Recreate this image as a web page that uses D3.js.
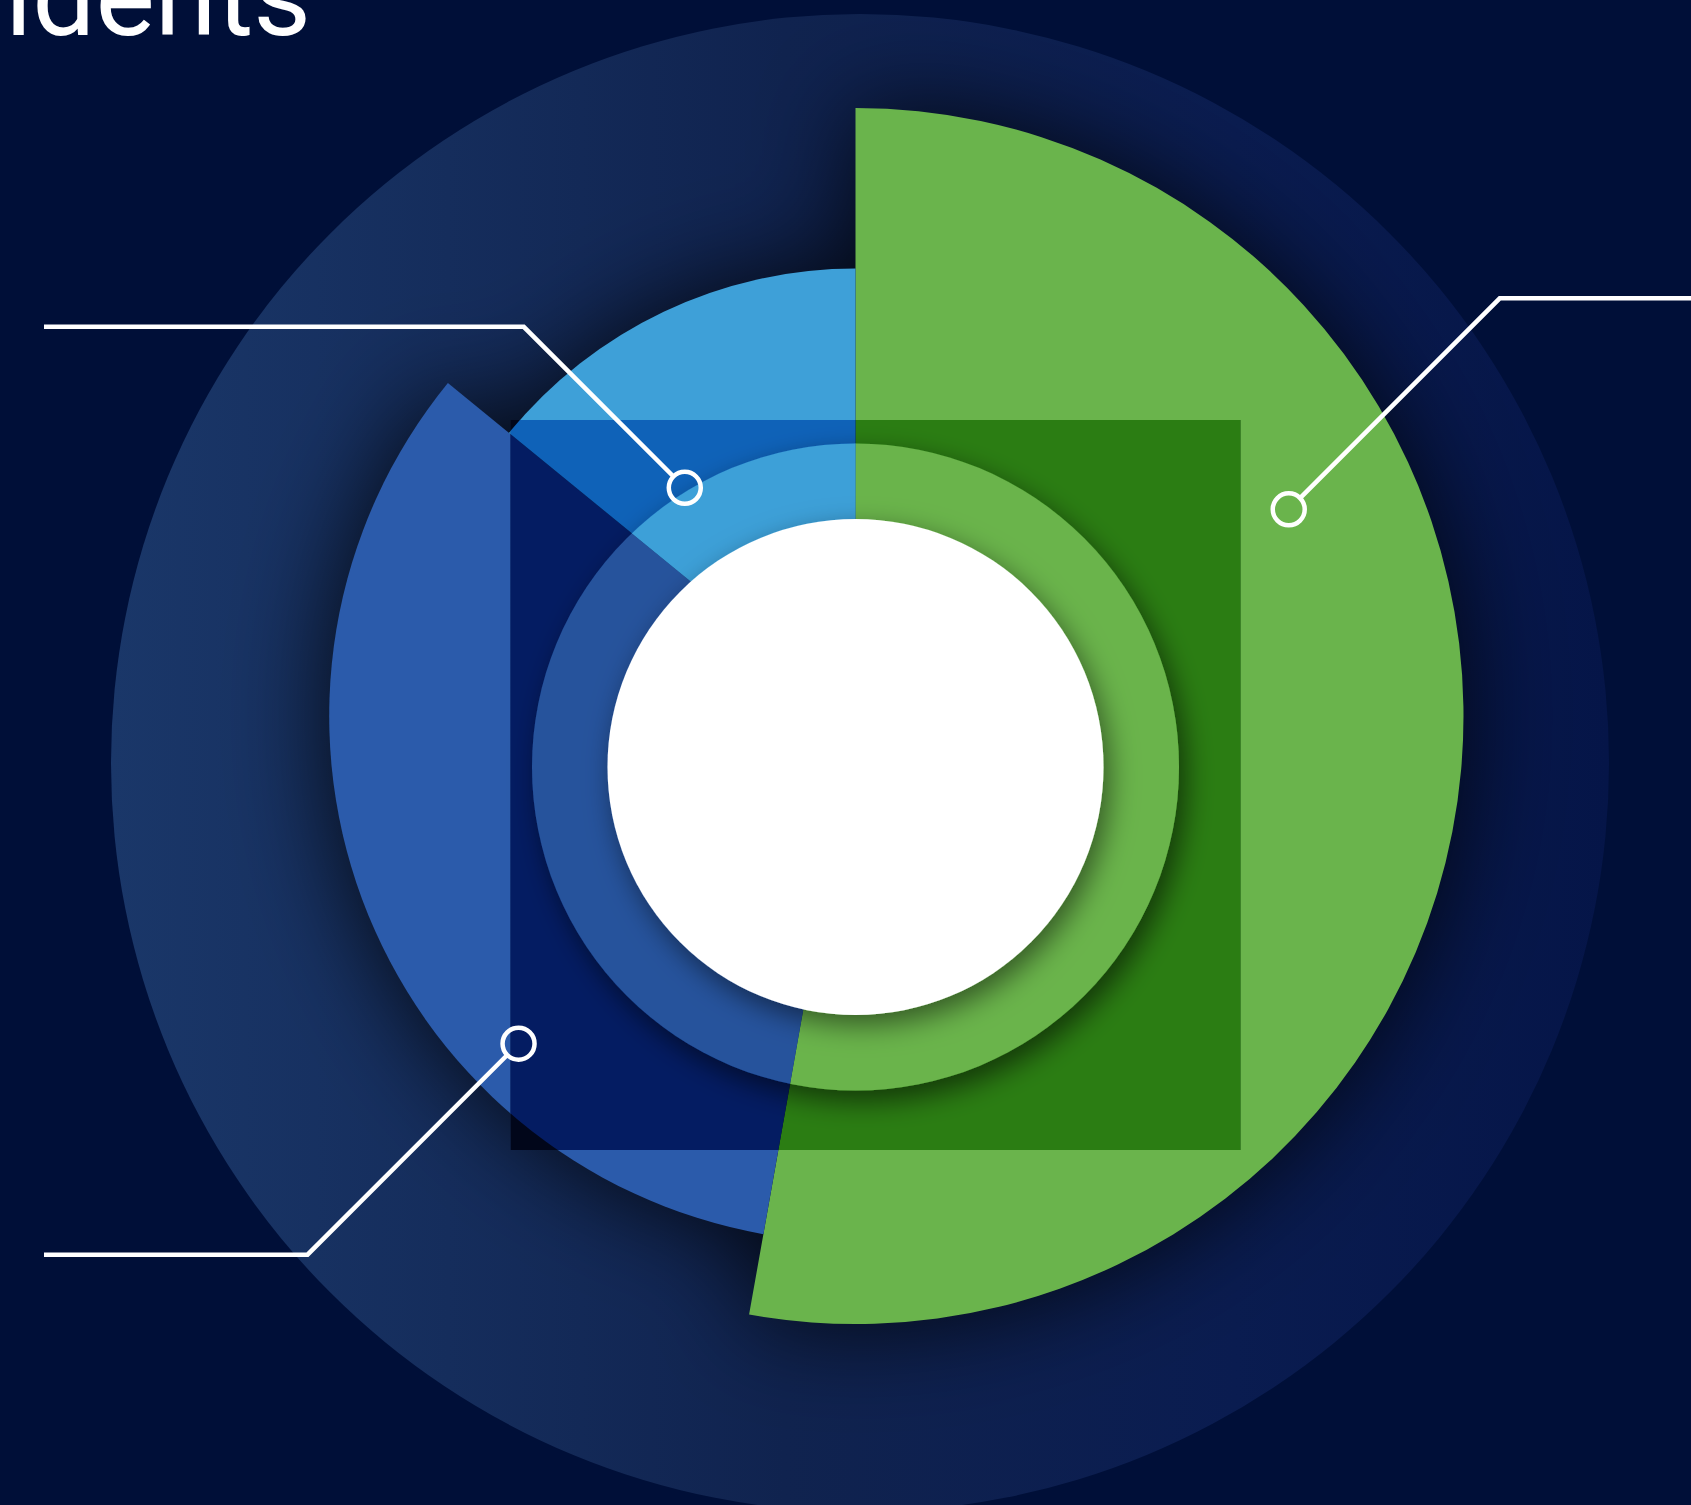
<!DOCTYPE html>
<html>
<head>
<meta charset="utf-8">
<script src="https://cdn.jsdelivr.net/npm/d3@7"></script>
<style>
  html, body { margin: 0; padding: 0; background: #000f38; overflow: hidden; }
  svg { display: block; }
</style>
</head>
<body>
<svg id="chart"></svg>
<script>
// ---- data ----
const categories = ["Segment A", "Segment B", "Segment C"];
const values = [52.8, 33.1, 14.1];
const titleText = "idents";

// ---- palette ----
const baseColors = ["#6ab44c", "url(#blueFill)", "#3ea0d8"];
const shadeColors = ["#2b7d13", "url(#blueShade)", "#0f62b8"];
const ringColors = ["#6ab44c", "url(#blueRing)", "#3ea0d8"];

// ---- layout ----
const W = 1691, H = 1505;
const pieC = { x: 855.5, y: 716 };      // centre of the rose slices
const hubC = { x: 855.5, y: 767 };      // centre of the raised ring + white hub
const ringR = 323.5, hubR = 248;
const haloC = { x: 860, y: 763 }, haloR = 749;
const panel = { x: hubC.x - 345, y: hubC.y - 347, size: 730 };

// leader callouts: angle on the pie (deg, clockwise from 12 o'clock), distance, diagonal run, direction
const callouts = [
  { angle: 64.5,  dist: 480, run: 211, dir: [ 1, -1], endX: W },
  { angle: 225.8, dist: 470, run: 211, dir: [-1,  1], endX: 44 },
  { angle: -36.8, dist: 285, run: 161, dir: [-1, -1], endX: 44 }
];

const svg = d3.select("#chart").attr("width", W).attr("height", H);
const defs = svg.append("defs");

function hGradient(id, x1, x2, stops) {
  const g = defs.append("linearGradient").attr("id", id)
    .attr("gradientUnits", "userSpaceOnUse")
    .attr("x1", x1).attr("x2", x2).attr("y1", 0).attr("y2", 0);
  stops.forEach(([o, c]) => g.append("stop").attr("offset", o).attr("stop-color", c));
}
hGradient("haloFill", haloC.x - haloR, haloC.x + haloR,
  [["0", "#1a3769"], ["0.45", "#10234f"], ["0.75", "#0a1c50"], ["1", "#051548"]]);
hGradient("blueFill", pieC.x - 528, pieC.x - 70, [["0", "#2b5bab"], ["1", "#1f457f"]]);
hGradient("blueRing", hubC.x - ringR, hubC.x - 60, [["0", "#25539c"], ["1", "#1f4784"]]);
hGradient("blueShade", panel.x, pieC.x - 70, [["0", "#041c62"], ["1", "#03134a"]]);

// soft dark halo cast by the slices onto the backdrop
const halo = defs.append("filter").attr("id", "halo")
  .attr("x", "-40%").attr("y", "-40%").attr("width", "180%").attr("height", "180%");
halo.append("feGaussianBlur").attr("in", "SourceAlpha").attr("stdDeviation", 50).attr("result", "b");
halo.append("feFlood").attr("flood-color", "#000").attr("flood-opacity", 0.8).attr("result", "f");
halo.append("feComposite").attr("in", "f").attr("in2", "b").attr("operator", "in");

function dropShadow(id, dx, dy, sd, op) {
  const f = defs.append("filter").attr("id", id)
    .attr("x", "-25%").attr("y", "-25%").attr("width", "150%").attr("height", "150%");
  f.append("feDropShadow").attr("dx", dx).attr("dy", dy).attr("stdDeviation", sd)
    .attr("flood-color", "#000").attr("flood-opacity", op);
}
dropShadow("ringShadow", 7, 11, 14, 0.55);
dropShadow("hubShadow", 6, 10, 14, 0.5);

defs.append("clipPath").attr("id", "haloClip")
  .append("circle").attr("cx", haloC.x).attr("cy", haloC.y).attr("r", haloR);
defs.append("clipPath").attr("id", "panelClip")
  .append("rect").attr("x", panel.x).attr("y", panel.y)
  .attr("width", panel.size).attr("height", panel.size);
defs.append("clipPath").attr("id", "ringClip")
  .append("circle").attr("cx", hubC.x).attr("cy", hubC.y).attr("r", ringR);

// ---- scales & generators ----
const pie = d3.pie().sort(null).value(d => d).startAngle(0).endAngle(2 * Math.PI);
const arcsData = pie(values);
const rScale = d3.scaleLinear().domain([0, d3.max(values)]).range([389, 608]);
const arc = d3.arc().innerRadius(0).outerRadius(d => rScale(d.data));

// ---- backdrop ----
svg.append("rect").attr("width", W).attr("height", H).attr("fill", "#000f38");
svg.append("circle").attr("cx", haloC.x).attr("cy", haloC.y).attr("r", haloR)
  .attr("fill", "url(#haloFill)");

function drawSlices(parent, colors, cls) {
  return parent.append("g").attr("transform", `translate(${pieC.x},${pieC.y})`)
    .selectAll("path." + cls).data(arcsData).join("path")
    .attr("class", cls)
    .attr("d", arc)
    .attr("fill", (d, i) => colors[i]);
}

// halo under the slices
const haloG = svg.append("g").attr("clip-path", "url(#haloClip)")
  .append("g").attr("filter", "url(#halo)");
drawSlices(haloG, baseColors, "halo-slice");

// main slices
drawSlices(svg.append("g"), baseColors, "slice");

// darker square panel
const panelG = svg.append("g").attr("clip-path", "url(#panelClip)");
panelG.append("rect").attr("x", panel.x).attr("y", panel.y)
  .attr("width", panel.size).attr("height", panel.size).attr("fill", "#01061a");
drawSlices(panelG, shadeColors, "slice-shade");

// raised ring showing the true colours
const ringG = svg.append("g").attr("filter", "url(#ringShadow)")
  .append("g").attr("clip-path", "url(#ringClip)");
drawSlices(ringG, ringColors, "ring-slice");

// white hub
svg.append("circle").attr("cx", hubC.x).attr("cy", hubC.y).attr("r", hubR)
  .attr("fill", "#ffffff").attr("filter", "url(#hubShadow)");

// ---- callouts ----
const dotR = 16;
const cg = svg.append("g").attr("fill", "none").attr("stroke", "#ffffff").attr("stroke-width", 4.5);
callouts.forEach(c => {
  const a = c.angle * Math.PI / 180;
  const [px, py] = d3.pointRadial(a, c.dist);
  const dot = [pieC.x + px, pieC.y + py];
  const k = dotR / Math.SQRT2;
  const start = [dot[0] + c.dir[0] * k, dot[1] + c.dir[1] * k];
  const elbow = [dot[0] + c.dir[0] * c.run, dot[1] + c.dir[1] * c.run];
  const end = [c.endX, elbow[1]];
  cg.append("path").attr("d", d3.line()([start, elbow, end]))
    .attr("stroke-linejoin", "miter");
  cg.append("circle").attr("cx", dot[0]).attr("cy", dot[1]).attr("r", dotR);
});

// ---- title ----
svg.append("text").attr("x", 5).attr("y", 35)
  .attr("font-family", "Roboto, 'Open Sans', sans-serif")
  .attr("font-size", 112).attr("font-weight", 400)
  .attr("fill", "#ffffff")
  .text(titleText);
</script>
</body>
</html>
